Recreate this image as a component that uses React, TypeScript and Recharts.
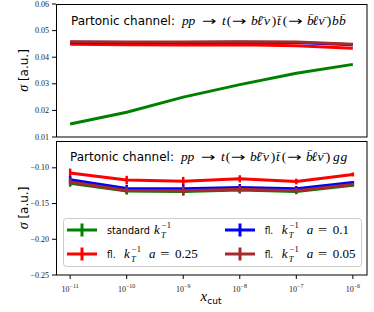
import React from "react";
import { LineChart, Line, XAxis, YAxis, ErrorBar } from "recharts";

// ---- data ----
const xcut = [1e-11, 1e-10, 1e-9, 1e-8, 1e-7, 1e-6];
const xMajorExp = [-11, -10, -9, -8, -7, -6];

// top panel: pp -> ... b bbar
const bbStandard = [0.0149, 0.0193, 0.025, 0.0297, 0.034, 0.0373];
const bbA025 = [0.0449, 0.0447, 0.0446, 0.0447, 0.0443, 0.0434];
const bbA01 = [0.0456, 0.0455, 0.0455, 0.0456, 0.0455, 0.0447];
const bbA005 = [0.0458, 0.0457, 0.0457, 0.0458, 0.0457, 0.0449];

// bottom panel: pp -> ... g g
const ggStandard = [-0.1215, -0.1325, -0.133, -0.131, -0.133, -0.1245];
const ggA025 = [-0.1074, -0.1172, -0.1187, -0.1154, -0.1192, -0.1093];
const ggA01 = [-0.1168, -0.129, -0.1294, -0.1276, -0.1294, -0.1206];
const ggA005 = [-0.12, -0.1318, -0.1322, -0.13, -0.132, -0.1234];
const ggStandardErr = [0.005, 0.005, 0.006, 0.005, 0.004, 0.002];
const ggA025Err = [0.0063, 0.006, 0.006, 0.005, 0.004, 0.0028];
const ggA01Err = [0.005, 0.005, 0.006, 0.005, 0.004, 0.002];
const ggA005Err = [0.005, 0.005, 0.006, 0.005, 0.004, 0.002];

const topTicks = [0.01, 0.02, 0.03, 0.04, 0.05, 0.06];
const bottomTicks = [-0.25, -0.2, -0.15, -0.1];

const legendValues = ["0.25", "0.1", "0.05"];

const GREEN = "#008000";
const RED = "#ff0000";
const BLUE = "#0000ff";
const BROWN = "#a52a2a";

const topData = xcut.map((x, i) => ({
  lx: Math.log10(x),
  std: bbStandard[i],
  a025: bbA025[i],
  a01: bbA01[i],
  a005: bbA005[i],
}));

const bottomData = xcut.map((x, i) => ({
  lx: Math.log10(x),
  std: ggStandard[i],
  stdErr: ggStandardErr[i],
  a025: ggA025[i],
  a025Err: ggA025Err[i],
  a01: ggA01[i],
  a01Err: ggA01Err[i],
  a005: ggA005[i],
  a005Err: ggA005Err[i],
}));

const minorTicks: number[] = [];
for (let e = -12; e <= -6; e++) {
  for (let k = 2; k <= 9; k++) {
    const v = Math.log10(k) + e;
    if (v > -11.25 && v < -5.75) minorTicks.push(v);
  }
}

const X_DOMAIN: [number, number] = [-11.25, -5.75];
const TICK_FONT = "'Liberation Serif', serif";
const SANS = "'DejaVu Sans', sans-serif";
const MATH = "'Liberation Serif', 'DejaVu Serif', serif";

const fmt = (v: number) => {
  const s = v.toFixed(2);
  return s.startsWith("-") ? "\u2212" + s.slice(1) : s;
};

const XTick = (props: any) => {
  const { x, y, payload } = props;
  return (
    <text x={x} y={y + 11} textAnchor="middle" fontFamily={TICK_FONT} fontSize={8} fill="#222">
      10
      <tspan dy={-4} fontSize={6}>
        {"\u2212" + String(-payload.value)}
      </tspan>
    </text>
  );
};

const YTick = (props: any) => {
  const { x, y, payload } = props;
  return (
    <text x={x} y={y} dy="0.33em" textAnchor="end" fontFamily={TICK_FONT} fontSize={8} fill="#222">
      {fmt(payload.value)}
    </text>
  );
};

const lineProps = (color: string) => ({
  stroke: color,
  strokeWidth: 3,
  dot: false as const,
  isAnimationActive: false,
  type: "linear" as const,
});

// [text, dx from start, italic, isArrow]
type Piece = [string, number, boolean, boolean];
const ARROW = "\u2192";
const titleMath = (last: Piece[]): Piece[] => [
  ["p", 111, true, false],
  ["p", 117.5, true, false],
  [ARROW, 130.7, false, true],
  ["t", 151, true, false],
  ["(", 155.7, false, false],
  [ARROW, 160.7, false, true],
  ["b", 180, true, false],
  ["\u2113\u0304", 186, true, false],
  ["\u03BD", 193, true, false],
  [")", 200.7, false, false],
  ["t\u0304", 206, true, false],
  ["(", 211.7, false, false],
  [ARROW, 217, false, true],
  ["b\u0304", 236, true, false],
  ["\u2113", 241.5, true, false],
  ["\u03BD\u0304", 247.5, true, false],
  [")", 255.7, false, false],
  ...last,
];
const bbLast: Piece[] = [
  ["b", 261, true, false],
  ["b\u0304", 268, true, false],
];
const ggLast: Piece[] = [
  ["g", 263, true, false],
  ["g", 270.5, true, false],
];

const Title = ({ x, y, last }: { x: number; y: number; last: Piece[] }) => (
  <g fill="#000">
    <text x={x} y={y} fontSize={12.5} fontFamily={SANS} textLength={104} lengthAdjust="spacingAndGlyphs">
      Partonic channel:
    </text>
    {titleMath(last).map(([t, dx, it, arrow], i) =>
      arrow ? (
        <text
          key={i}
          transform={`translate(${x + dx},${y - 0.5}) scale(1.4,1)`}
          fontSize={12.5}
          fontFamily={SANS}
        >
          {t}
        </text>
      ) : (
        <text key={i} x={x + dx} y={y} fontSize={13.5} fontFamily={MATH} fontStyle={it ? "italic" : "normal"}>
          {t}
        </text>
      )
    )}
  </g>
);

const KT = ({ x, y }: { x: number; y: number }) => (
  <g fill="#000" fontFamily={MATH}>
    <text x={x} y={y} fontSize={13} fontStyle="italic">k</text>
    <text x={x + 7} y={y + 4.5} fontSize={8.5} fontStyle="italic">T</text>
    <text x={x + 8} y={y - 6} fontSize={8.5}>{"\u22121"}</text>
  </g>
);

const LegendItem = ({
  hx,
  y,
  tx,
  color,
  label,
  labelLen,
  a,
}: {
  hx: number;
  y: number;
  tx: number;
  color: string;
  label: string;
  labelLen: number;
  a?: string;
}) => (
  <g>
    <line x1={hx} x2={hx + 30} y1={y} y2={y} stroke={color} strokeWidth={3} />
    <line x1={hx + 15} x2={hx + 15} y1={y - 6.5} y2={y + 6.5} stroke={color} strokeWidth={3} />
    <text x={tx} y={y + 3.5} fontSize={10.3} fontFamily={SANS} fill="#000" textLength={labelLen} lengthAdjust="spacingAndGlyphs">
      {label}
    </text>
    {a === undefined ? (
      <KT x={tx + 47} y={y + 3.5} />
    ) : (
      <>
        <KT x={tx + 17} y={y + 3.5} />
        <text x={tx + 42} y={y + 3.5} fontSize={13} fontFamily={MATH} fontStyle="italic" fill="#000">a</text>
        <text x={tx + 53} y={y + 3.5} fontSize={13} fontFamily={MATH} fill="#000" textLength={9.5} lengthAdjust="spacingAndGlyphs">=</text>
        <text x={tx + 68} y={y + 3.5} fontSize={13} fontFamily={MATH} fill="#000">{a}</text>
      </>
    )}
  </g>
);

export default function App() {
  return (
    <div style={{ position: "absolute", left: 0, top: 0, width: 374, height: 312, background: "#fff" }}>
      <div style={{ position: "absolute", left: 0, top: 0 }}>
        <LineChart width={374} height={141} data={topData} margin={{ top: 4, right: 7, bottom: 4, left: 0 }}>
          <XAxis dataKey="lx" type="number" domain={X_DOMAIN} allowDataOverflow hide />
          <YAxis
            type="number"
            domain={[0.01, 0.06]}
            ticks={topTicks}
            allowDataOverflow
            width={56}
            axisLine={false}
            tickLine={{ stroke: "#000" }}
            tickSize={4}
            tickMargin={3}
            tick={<YTick />}
            interval={0}
          />
          <Line dataKey="std" {...lineProps(GREEN)} />
          <Line dataKey="a025" {...lineProps(RED)} />
          <Line dataKey="a01" {...lineProps(BLUE)} />
          <Line dataKey="a005" {...lineProps(BROWN)} />
        </LineChart>
      </div>
      <div style={{ position: "absolute", left: 0, top: 139 }}>
        <LineChart width={374} height={173} data={bottomData} margin={{ top: 2, right: 7, bottom: 0, left: 0 }}>
          <XAxis
            xAxisId="minor"
            dataKey="lx"
            type="number"
            domain={X_DOMAIN}
            allowDataOverflow
            ticks={minorTicks}
            interval={0}
            height={0}
            axisLine={false}
            tick={false}
            tickLine={{ stroke: "#000" }}
            tickSize={2}
          />
          <XAxis
            dataKey="lx"
            type="number"
            domain={X_DOMAIN}
            allowDataOverflow
            ticks={xMajorExp}
            interval={0}
            height={37}
            axisLine={false}
            tickLine={{ stroke: "#000" }}
            tickSize={4}
            tick={<XTick />}
          />
          <YAxis
            type="number"
            domain={[-0.25, -0.0625]}
            ticks={bottomTicks}
            allowDataOverflow
            width={56}
            axisLine={false}
            tickLine={{ stroke: "#000" }}
            tickSize={4}
            tickMargin={3}
            tick={<YTick />}
            interval={0}
          />
          <Line dataKey="std" {...lineProps(GREEN)}>
            <ErrorBar dataKey="stdErr" width={0} stroke={GREEN} strokeWidth={2.5} direction="y" />
          </Line>
          <Line dataKey="a025" {...lineProps(RED)}>
            <ErrorBar dataKey="a025Err" width={0} stroke={RED} strokeWidth={2.5} direction="y" />
          </Line>
          <Line dataKey="a01" {...lineProps(BLUE)}>
            <ErrorBar dataKey="a01Err" width={0} stroke={BLUE} strokeWidth={2.5} direction="y" />
          </Line>
          <Line dataKey="a005" {...lineProps(BROWN)}>
            <ErrorBar dataKey="a005Err" width={0} stroke={BROWN} strokeWidth={2.5} direction="y" />
          </Line>
        </LineChart>
      </div>
      <svg
        width={374}
        height={312}
        style={{ position: "absolute", left: 0, top: 0, pointerEvents: "none" }}
      >
        <rect x={56.5} y={4.5} width={310.5} height={132.5} fill="none" stroke="#000" strokeWidth={1} />
        <rect x={56.5} y={141.5} width={310.5} height={133.5} fill="none" stroke="#000" strokeWidth={1} />
        <Title x={71} y={25} last={bbLast} />
        <Title x={70} y={161} last={ggLast} />
        <text transform="translate(28,70.5) rotate(-90)" textAnchor="middle" fontSize={12} fill="#000">
          <tspan fontFamily={MATH} fontStyle="italic" fontSize={14}>σ</tspan>
          <tspan fontFamily={SANS}> [a.u.]</tspan>
        </text>
        <text transform="translate(28,208) rotate(-90)" textAnchor="middle" fontSize={12} fill="#000">
          <tspan fontFamily={MATH} fontStyle="italic" fontSize={14}>σ</tspan>
          <tspan fontFamily={SANS}> [a.u.]</tspan>
        </text>
        <text x={211} y={301} textAnchor="middle" fill="#000">
          <tspan fontFamily={MATH} fontStyle="italic" fontSize={15}>x</tspan>
          <tspan fontFamily={SANS} fontSize={9} dy={3}>cut</tspan>
        </text>
        <rect x={63.5} y={218.5} width={298} height={48} rx={3} fill="#fff" fillOpacity={0.8} stroke="#ccc" />
        <LegendItem hx={67} y={230} tx={107} color={GREEN} label="standard" labelLen={43} />
        <LegendItem hx={67} y={254} tx={107} color={RED} label="fl." labelLen={8.5} a={legendValues[0]} />
        <LegendItem hx={225} y={230} tx={264.7} color={BLUE} label="fl." labelLen={8.5} a={legendValues[1]} />
        <LegendItem hx={225} y={254} tx={264.7} color={BROWN} label="fl." labelLen={8.5} a={legendValues[2]} />
      </svg>
    </div>
  );
}
